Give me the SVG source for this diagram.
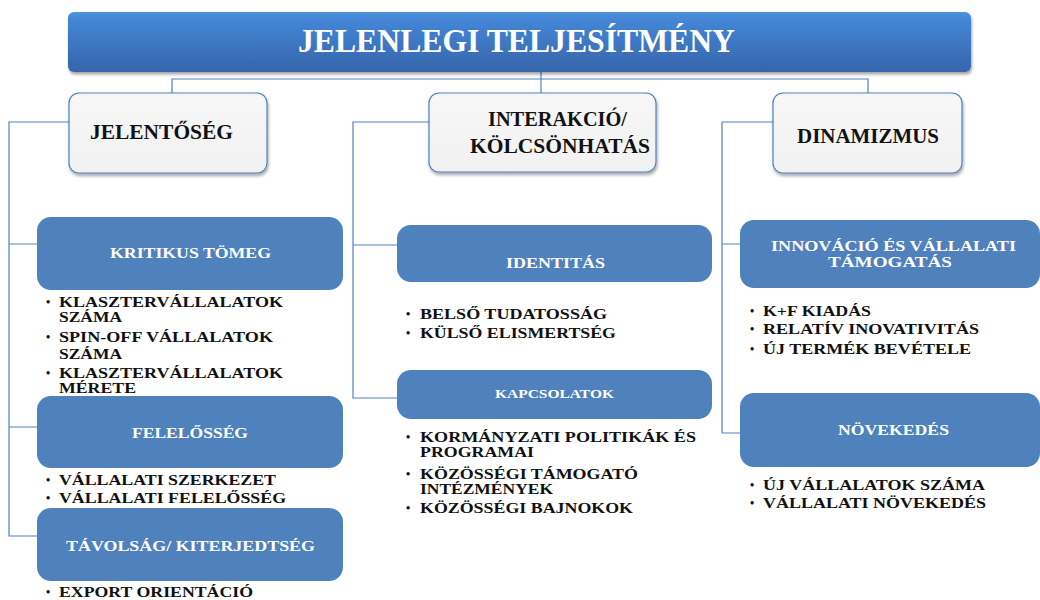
<svg xmlns="http://www.w3.org/2000/svg" width="1040" height="600" viewBox="0 0 1040 600">
  <defs>
    <linearGradient id="titleFill" x1="0" y1="0" x2="0" y2="1">
      <stop offset="0" stop-color="#5192dc"/>
      <stop offset="0.12" stop-color="#4486d6"/>
      <stop offset="1" stop-color="#3665aa"/>
    </linearGradient>
    <linearGradient id="catFill" x1="0" y1="0" x2="0" y2="1">
      <stop offset="0" stop-color="#f7f7f7"/>
      <stop offset="1" stop-color="#f1f1f1"/>
    </linearGradient>
    <filter id="shadow" x="-5%" y="-10%" width="110%" height="130%">
      <feDropShadow dx="1" dy="2.5" stdDeviation="1.6" flood-color="#000" flood-opacity="0.35"/>
    </filter>
  </defs>
  <style>
    .serif { font-family: "Liberation Serif", "Times New Roman", serif; font-weight: bold; }
    .title { font-size: 33px; fill: #ffffff; }
    .cat { fill: url(#catFill); stroke: #4f81bd; stroke-width: 1.2; }
    .catText { font-size: 20px; fill: #111111; }
    .sub { fill: #4f81bd; }
    .subText { font-size: 15px; fill: #ffffff; }
    .item { font-size: 15.5px; fill: #111111; }
    .bullet { font-size: 12px; fill: #111111; }
    .link { fill: none; stroke: #4f81bd; stroke-width: 1.2; }
  </style>
  <rect width="1040" height="600" fill="#ffffff"/>

  <!-- connectors -->
  <g id="connectors">
    <path class="link" d="M541,72 V93"/>
    <path class="link" d="M172,93 V79 H868 V93"/>
    <path class="link" d="M69,122 H9 V536 H37 M9,244 H37 M9,427 H37"/>
    <path class="link" d="M429,122 H353 V398 H397 M353,245 H397"/>
    <path class="link" d="M773,122 H722 V433 H740 M722,244 H740"/>
  </g>

  <!-- root -->
  <g id="root">
    <rect x="68" y="12" width="903" height="60" rx="6" fill="url(#titleFill)" filter="url(#shadow)"/>
    <text class="serif title" x="298" y="52" textLength="437" lengthAdjust="spacingAndGlyphs">JELENLEGI TELJESÍTMÉNY</text>
  </g>

  <!-- first level -->
  <g id="jelentoseg">
    <rect class="cat" x="69" y="93" width="198" height="80" rx="10" filter="url(#shadow)"/>
    <text class="serif catText" x="90" y="139" textLength="143" lengthAdjust="spacingAndGlyphs">JELENTŐSÉG</text>
  </g>
  <g id="interakcio">
    <rect class="cat" x="429" y="93" width="227" height="79" rx="10" filter="url(#shadow)"/>
    <text class="serif catText" x="488" y="126" textLength="139" lengthAdjust="spacingAndGlyphs">INTERAKCIÓ/</text>
    <text class="serif catText" x="470" y="153" textLength="180" lengthAdjust="spacingAndGlyphs">KÖLCSÖNHATÁS</text>
  </g>
  <g id="dinamizmus">
    <rect class="cat" x="773" y="93" width="189" height="80" rx="10" filter="url(#shadow)"/>
    <text class="serif catText" x="797" y="143" textLength="142" lengthAdjust="spacingAndGlyphs">DINAMIZMUS</text>
  </g>

  <!-- JELENTŐSÉG branch -->
  <g id="kritikus-tomeg">
    <rect class="sub" x="37" y="217" width="306" height="73" rx="14"/>
    <text class="serif subText" x="110" y="258" textLength="161" lengthAdjust="spacingAndGlyphs">KRITIKUS TÖMEG</text>
    <g class="serif">
      <text class="bullet" x="46" y="306">•</text>
      <text class="item" x="59" y="307" textLength="224" lengthAdjust="spacingAndGlyphs">KLASZTERVÁLLALATOK</text>
      <text class="item" x="59" y="322" textLength="63" lengthAdjust="spacingAndGlyphs">SZÁMA</text>
      <text class="bullet" x="46" y="341">•</text>
      <text class="item" x="59" y="342" textLength="214" lengthAdjust="spacingAndGlyphs">SPIN-OFF VÁLLALATOK</text>
      <text class="item" x="59" y="359" textLength="63" lengthAdjust="spacingAndGlyphs">SZÁMA</text>
      <text class="bullet" x="46" y="377">•</text>
      <text class="item" x="59" y="378" textLength="224" lengthAdjust="spacingAndGlyphs">KLASZTERVÁLLALATOK</text>
      <text class="item" x="59" y="393" textLength="77" lengthAdjust="spacingAndGlyphs">MÉRETE</text>
    </g>
  </g>
  <g id="felelosseg">
    <rect class="sub" x="37" y="396" width="306" height="72" rx="14"/>
    <text class="serif subText" x="132" y="438" textLength="116" lengthAdjust="spacingAndGlyphs">FELELŐSSÉG</text>
    <g class="serif">
      <text class="bullet" x="46" y="484">•</text>
      <text class="item" x="59" y="485" textLength="217" lengthAdjust="spacingAndGlyphs">VÁLLALATI SZERKEZET</text>
      <text class="bullet" x="46" y="502">•</text>
      <text class="item" x="59" y="503" textLength="227" lengthAdjust="spacingAndGlyphs">VÁLLALATI FELELŐSSÉG</text>
    </g>
  </g>
  <g id="tavolsag">
    <rect class="sub" x="37" y="508" width="306" height="73" rx="14"/>
    <text class="serif subText" x="66" y="551" textLength="249" lengthAdjust="spacingAndGlyphs">TÁVOLSÁG/ KITERJEDTSÉG</text>
    <g class="serif">
      <text class="bullet" x="46" y="596">•</text>
      <text class="item" x="59" y="597" textLength="194" lengthAdjust="spacingAndGlyphs">EXPORT ORIENTÁCIÓ</text>
    </g>
  </g>

  <!-- INTERAKCIÓ branch -->
  <g id="identitas">
    <rect class="sub" x="397" y="225" width="315" height="57" rx="14"/>
    <text class="serif subText" x="506" y="268" textLength="99" lengthAdjust="spacingAndGlyphs" style="font-size:14px">IDENTITÁS</text>
    <g class="serif">
      <text class="bullet" x="406" y="318">•</text>
      <text class="item" x="420" y="319" textLength="187" lengthAdjust="spacingAndGlyphs">BELSŐ TUDATOSSÁG</text>
      <text class="bullet" x="406" y="337">•</text>
      <text class="item" x="420" y="338" textLength="196" lengthAdjust="spacingAndGlyphs">KÜLSŐ ELISMERTSÉG</text>
    </g>
  </g>
  <g id="kapcsolatok">
    <rect class="sub" x="397" y="370" width="315" height="49" rx="14"/>
    <text class="serif subText" x="495" y="398" textLength="119" lengthAdjust="spacingAndGlyphs" style="font-size:13px">KAPCSOLATOK</text>
    <g class="serif">
      <text class="bullet" x="406" y="441">•</text>
      <text class="item" x="420" y="442" textLength="276" lengthAdjust="spacingAndGlyphs">KORMÁNYZATI POLITIKÁK ÉS</text>
      <text class="item" x="420" y="457" textLength="114" lengthAdjust="spacingAndGlyphs">PROGRAMAI</text>
      <text class="bullet" x="406" y="478">•</text>
      <text class="item" x="420" y="479" textLength="218" lengthAdjust="spacingAndGlyphs">KÖZÖSSÉGI TÁMOGATÓ</text>
      <text class="item" x="420" y="494" textLength="133" lengthAdjust="spacingAndGlyphs">INTÉZMÉNYEK</text>
      <text class="bullet" x="406" y="512">•</text>
      <text class="item" x="420" y="513" textLength="213" lengthAdjust="spacingAndGlyphs">KÖZÖSSÉGI BAJNOKOK</text>
    </g>
  </g>

  <!-- DINAMIZMUS branch -->
  <g id="innovacio">
    <rect class="sub" x="740" y="220" width="300" height="68" rx="14"/>
    <text class="serif subText" x="771" y="251" textLength="245" lengthAdjust="spacingAndGlyphs">INNOVÁCIÓ ÉS VÁLLALATI</text>
    <text class="serif subText" x="828" y="267" textLength="124" lengthAdjust="spacingAndGlyphs">TÁMOGATÁS</text>
    <g class="serif">
      <text class="bullet" x="750" y="315">•</text>
      <text class="item" x="763" y="316" textLength="108" lengthAdjust="spacingAndGlyphs">K+F KIADÁS</text>
      <text class="bullet" x="750" y="333">•</text>
      <text class="item" x="763" y="334" textLength="216" lengthAdjust="spacingAndGlyphs">RELATÍV INOVATIVITÁS</text>
      <text class="bullet" x="750" y="353">•</text>
      <text class="item" x="763" y="354" textLength="208" lengthAdjust="spacingAndGlyphs">ÚJ TERMÉK BEVÉTELE</text>
    </g>
  </g>
  <g id="novekedes">
    <rect class="sub" x="740" y="393" width="300" height="74" rx="14"/>
    <text class="serif subText" x="838" y="435" textLength="111" lengthAdjust="spacingAndGlyphs">NÖVEKEDÉS</text>
    <g class="serif">
      <text class="bullet" x="750" y="489">•</text>
      <text class="item" x="763" y="490" textLength="222" lengthAdjust="spacingAndGlyphs">ÚJ VÁLLALATOK SZÁMA</text>
      <text class="bullet" x="750" y="507">•</text>
      <text class="item" x="763" y="508" textLength="223" lengthAdjust="spacingAndGlyphs">VÁLLALATI NÖVEKEDÉS</text>
    </g>
  </g>
</svg>
